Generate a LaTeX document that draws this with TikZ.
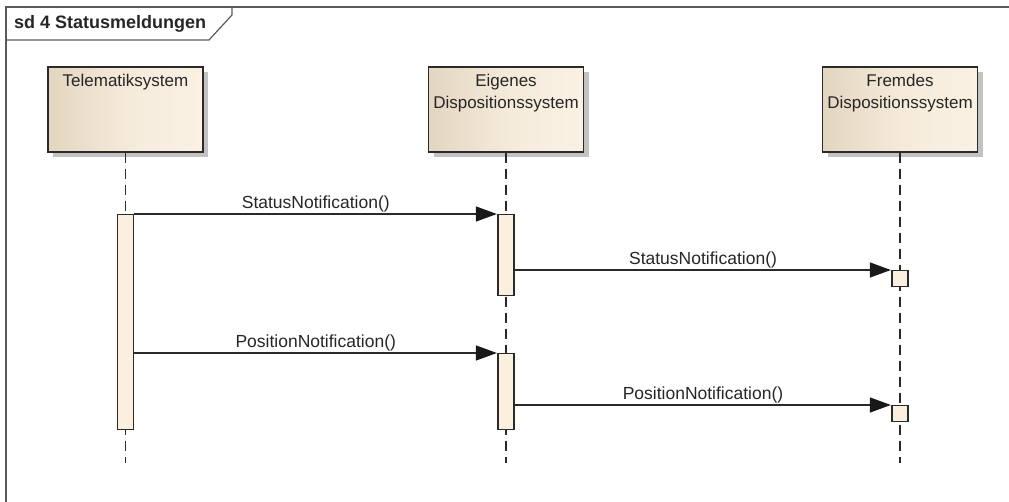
\documentclass[tikz,border=0pt]{standalone}
\usepackage{fontspec}
\setmainfont{Liberation Sans}
\usetikzlibrary{arrows.meta,shadows}
\definecolor{framec}{HTML}{5A5A5A}
\definecolor{edgec}{HTML}{2A2A2A}
\definecolor{headl}{HTML}{E3D6C0}
\definecolor{headr}{HTML}{FBF1E3}
\definecolor{actfill}{HTML}{FBF0E0}
\definecolor{shadowc}{HTML}{C2C2C2}
\tikzset{
  head/.style={draw=edgec, line width=1.4pt, minimum width=155pt, minimum height=85pt,
    inner sep=0pt, left color=headl, right color=headr, middle color=headr!75!headl,
    drop shadow={shadow xshift=5pt, shadow yshift=-5pt, fill=shadowc, opacity=1}},
  headtxt/.style={anchor=north, align=center, inner sep=0pt,
    font=\fontsize{17}{22}\selectfont, text=black!85},
  lifeline/.style={draw=edgec, line width=1.3pt, dash pattern=on 10pt off 6pt},
  act/.style={draw=edgec, line width=1.3pt, fill=actfill, minimum width=16pt, inner sep=0pt},
  msg/.style={draw=edgec, line width=1.3pt, -{Triangle[length=21pt,width=15pt,color=black!90]}, shorten >=0.5pt},
  msglbl/.style={anchor=south, inner sep=1.5pt, font=\fontsize{17.5}{20}\selectfont, text=black!85},
  framepath/.style={draw=framec, line width=1.2pt}
}
\begin{document}
\begin{tikzpicture}[x=1pt,y=-1pt]
\useasboundingbox (0,0) rectangle (1009,502);
% frame
\draw[framepath] (1009,7) -- (6,7) -- (6,502);
\draw[framepath] (6,40) -- (209,40) -- (232,15) -- (232,7);
\node[anchor=west, inner sep=0pt, font=\fontsize{18}{20}\selectfont\bfseries, text=black!85] (title) at (14,24) {sd 4 Statusmeldungen};
% lifeline heads
\node[head] (T) at (125.5,109.5) {};
\node[head] (E) at (506,109.5) {};
\node[head] (F) at (900,109.5) {};
\node[headtxt] (Tt) at ([yshift=-8pt]T.north) {Telematiksystem};
\node[headtxt] (Et) at ([yshift=-8pt]E.north) {Eigenes\\Dispositionssystem};
\node[headtxt] (Ft) at ([yshift=-8pt]F.north) {Fremdes\\Dispositionssystem};
% lifeline ends
\coordinate (Tend) at (125.5,463);
\coordinate (Eend) at (506,463);
\coordinate (Fend) at (900,463);
\draw[lifeline] (T.south) -- (Tend);
\draw[lifeline] (E.south) -- (Eend);
\draw[lifeline] (F.south) -- (Fend);
% activations
\node[act, minimum height=215pt, anchor=north] (aT) at (125.5,214) {};
\node[act, minimum height=81pt, anchor=north] (aE1) at (506,214) {};
\node[act, minimum height=16pt, anchor=north] (aF1) at (900,270) {};
\node[act, minimum height=76pt, anchor=north] (aE2) at (506,353) {};
\node[act, minimum height=16pt, anchor=north] (aF2) at (900,405) {};
% messages
\draw[msg] (aT.north east) -- node[msglbl] (m1) {StatusNotification()} (aE1.north west);
\draw[msg] (aE1.east |- aF1.north) -- node[msglbl] (m2) {StatusNotification()} (aF1.north west);
\draw[msg] (aT.east |- aE2.north) -- node[msglbl] (m3) {PositionNotification()} (aE2.north west);
\draw[msg] (aE2.east |- aF2.north) -- node[msglbl] (m4) {PositionNotification()} (aF2.north west);
\end{tikzpicture}
\end{document}
